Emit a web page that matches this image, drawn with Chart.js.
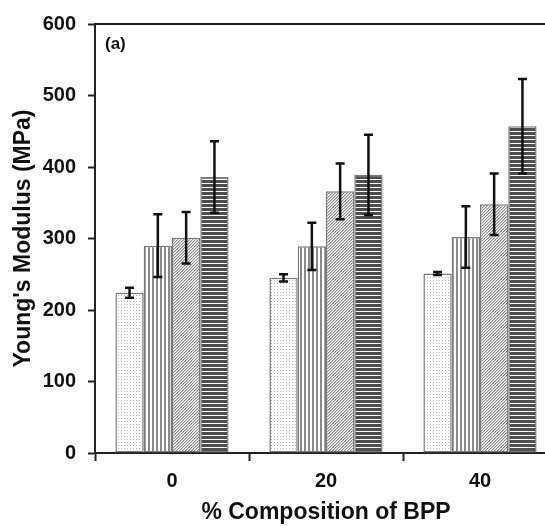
<!DOCTYPE html>
<html>
<head>
<meta charset="utf-8">
<script src="https://cdn.jsdelivr.net/npm/chart.js@4"></script>
<style>
  html, body { margin: 0; padding: 0; background: #fff; overflow: hidden; }
  #wrap { width: 545px; height: 526px; overflow: hidden; }
</style>
</head>
<body>
<div id="wrap"><canvas id="container" width="562" height="526"></canvas></div>
<script>
const categories = ["0", "20", "40"];
const seriesA = [224, 245, 251];
const seriesB = [290, 289, 302];
const seriesC = [301, 366, 348];
const seriesD = [386, 389, 457];
const errA = [7, 5, 2];
const errB = [44, 33, 43];
const errC = [36, 39, 43];
const errD = [50, 56, 66];
const yTicks = [0, 100, 200, 300, 400, 500, 600];

function makePattern(w, h, draw) {
  const c = document.createElement("canvas");
  c.width = w;
  c.height = h;
  const g = c.getContext("2d");
  g.fillStyle = "#fff";
  g.fillRect(0, 0, w, h);
  draw(g);
  return document.getElementById("container").getContext("2d").createPattern(c, "repeat");
}

const dots = makePattern(3, 3, (g) => {
  g.fillStyle = "#b4b4b4";
  g.fillRect(1, 1, 1, 1);
});
const vlines = makePattern(4, 4, (g) => {
  g.fillStyle = "#8a8a8a";
  g.fillRect(0, 0, 2, 4);
});
const diag = makePattern(3, 3, (g) => {
  g.fillStyle = "#8a8a8a";
  g.fillRect(0, 2, 1, 1);
  g.fillRect(1, 1, 1, 1);
  g.fillRect(2, 0, 1, 1);
  g.fillStyle = "#d0d0d0";
  g.fillRect(1, 2, 1, 1);
  g.fillRect(2, 1, 1, 1);
  g.fillRect(0, 0, 1, 1);
});
const hlines = makePattern(4, 4, (g) => {
  g.fillStyle = "#4e4e4e";
  g.fillRect(0, 0, 4, 3);
});

const errorBars = {
  id: "errorBars",
  afterDatasetsDraw(chart) {
    const ctx = chart.ctx;
    const y = chart.scales.y;
    ctx.save();
    ctx.strokeStyle = "#111";
    ctx.lineWidth = 2.5;
    chart.data.datasets.forEach((ds, i) => {
      const meta = chart.getDatasetMeta(i);
      meta.data.forEach((bar, j) => {
        const v = ds.data[j];
        const e = ds.err[j];
        const top = y.getPixelForValue(v + e);
        const bot = y.getPixelForValue(v - e);
        ctx.beginPath();
        ctx.moveTo(bar.x, top); ctx.lineTo(bar.x, bot);
        ctx.moveTo(bar.x - 4.5, top); ctx.lineTo(bar.x + 4.5, top);
        ctx.moveTo(bar.x - 4.5, bot); ctx.lineTo(bar.x + 4.5, bot);
        ctx.stroke();
      });
    });
    ctx.fillStyle = "#111";
    ctx.font = "bold 17px 'Liberation Sans', Arial, sans-serif";
    ctx.textBaseline = "middle";
    ctx.fillText("(a)", chart.chartArea.left + 10, chart.chartArea.top + 20);
    ctx.restore();
  }
};

const font = { family: "'Liberation Sans', Arial, sans-serif", weight: "bold" };

const data = {
  labels: categories,
  datasets: [
    { data: seriesA, err: errA, backgroundColor: dots },
    { data: seriesB, err: errB, backgroundColor: vlines },
    { data: seriesC, err: errC, backgroundColor: diag },
    { data: seriesD, err: errD, backgroundColor: hlines },
  ].map((d) => Object.assign(d, {
    borderColor: "#7a7a7a",
    borderWidth: 1.5,
    borderSkipped: false,
    barPercentage: 1,
    categoryPercentage: 0.735,
  })),
};

const config = {
  type: "bar",
  data: data,
  plugins: [errorBars],
  options: {
    responsive: false,
    animation: { duration: 0 },
    layout: { padding: { top: 24, right: 5, left: 0, bottom: 0 } },
    plugins: {
      legend: { display: false },
      tooltip: { enabled: false },
    },
    scales: {
      x: {
        offset: true,
        grid: {
          offset: true,
          drawOnChartArea: false,
          drawTicks: true,
          tickLength: 8,
          tickWidth: 2,
          color: "#222",
        },
        border: { display: true, color: "#222", width: 2 },
        ticks: { color: "#111", font: Object.assign({ size: 20 }, font), padding: 8 },
        title: {
          display: true,
          text: "% Composition of BPP",
          color: "#111",
          font: Object.assign({ size: 23 }, font),
          padding: { top: 0, bottom: 0 },
        },
        afterFit(scale) { scale.height = 73; },
      },
      x2: {
        position: "top",
        grid: { display: false },
        ticks: { display: false },
        border: { display: true, color: "#222", width: 2 },
        afterFit(scale) { scale.height = 0; },
      },
      y: {
        min: 0,
        max: 600,
        afterBuildTicks(scale) { scale.ticks = yTicks.map((v) => ({ value: v })); },
        grid: {
          drawOnChartArea: false,
          drawTicks: true,
          tickLength: 7,
          tickWidth: 2,
          color: "#222",
        },
        border: { display: true, color: "#222", width: 2 },
        ticks: { color: "#111", font: Object.assign({ size: 20 }, font), padding: 12 },
        title: {
          display: true,
          text: "Young's Modulus (MPa)",
          color: "#111",
          font: Object.assign({ size: 23 }, font),
          padding: { top: 10, bottom: 0 },
        },
        afterFit(scale) { scale.width = 95; },
      },
    },
  },
};

const chart = new Chart(document.getElementById("container"), config);
</script>
</body>
</html>
